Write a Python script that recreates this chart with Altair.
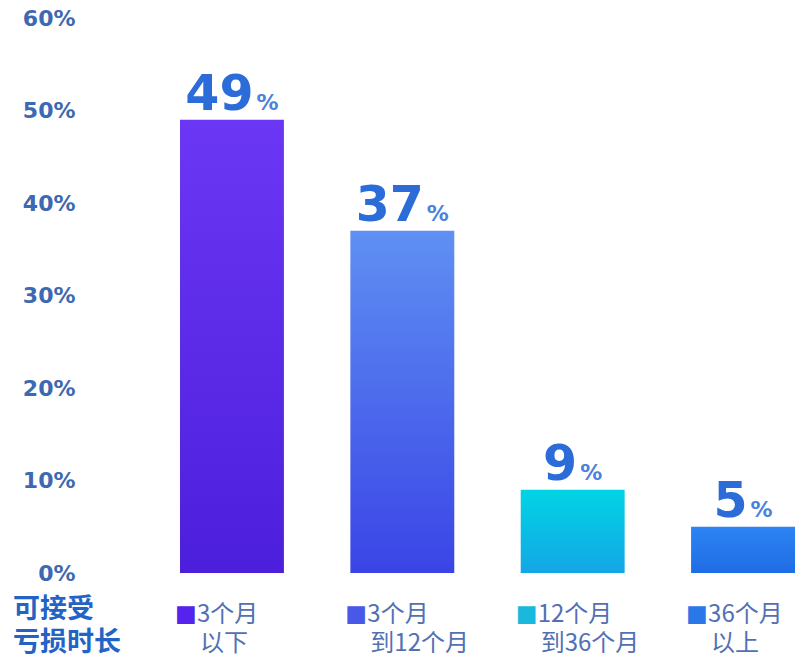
import altair as alt
import pandas as pd

# ---- data ----
categories = ["3个月以下", "3个月到12个月", "12个月到36个月", "36个月以上"]
line1 = ["3个月", "3个月", "12个月", "36个月"]
line2 = ["以下", "到12个月", "到36个月", "以上"]
values = [49, 37, 9, 5]
y_ticks = [0, 10, 20, 30, 40, 50, 60]
row_title = ["可接受", "亏损时长"]

# ---- styles ----
grad_top = ["#6b37f4", "#5f90f3", "#00d4e4", "#2d84f2"]
grad_bot = ["#4c1fdc", "#3a44e6", "#14a6e6", "#1f6ce6"]
swatch = ["#5522ee", "#4a58e8", "#1ab8dc", "#2a78e8"]

df = pd.DataFrame({"cat": categories, "v": values, "l1": line1, "l2": line2})

W, H = 615, 555
CJK = "Noto Sans CJK SC"

xscale = alt.Scale(domain=categories, paddingInner=0.39, paddingOuter=0)
yscale = alt.Scale(domain=[0, 60], nice=False, zero=True)

base = alt.Chart(df)

layers = []
for i, c in enumerate(categories):
    grad = alt.Gradient(
        gradient="linear",
        stops=[alt.GradientStop(color=grad_top[i], offset=0),
               alt.GradientStop(color=grad_bot[i], offset=1)],
        x1=0, x2=0, y1=0, y2=1,
    )
    b = base.transform_filter(alt.datum.cat == c).mark_bar(color=grad).encode(
        x=alt.X("cat:N", scale=xscale, axis=None, sort=categories),
        y=alt.Y("v:Q", scale=yscale,
                axis=alt.Axis(values=y_ticks, labelExpr="datum.value + '%'",
                              ticks=False, domain=False, grid=False,
                              labelPadding=105, labelFont="DejaVu Sans",
                              labelFontWeight="bold", labelFontSize=22,
                              labelColor="#3d68b2", title=None)),
    )
    layers.append(b)

# label offsets (relative to band start): centre the "NN%" group over the bar
num = base.transform_calculate(
    off="17*length(toString(datum.v)) - 12.5 + 52"
).mark_text(font="DejaVu Sans", fontWeight="bold", fontSize=49,
            color="#2b6cd9", align="right", baseline="alphabetic", dy=-10).encode(
    x=alt.X("cat:N", scale=xscale, axis=None, sort=categories),
    xOffset=alt.XOffset("off:Q", scale=None),
    y=alt.Y("v:Q", scale=yscale),
    text=alt.Text("v:Q"),
)

pct = base.transform_calculate(
    off="17*length(toString(datum.v)) - 9.5 + 52", p="'%'"
).mark_text(font="DejaVu Sans", fontWeight="bold", fontSize=22,
            color="#4a82dc", align="left", baseline="alphabetic", dy=-10).encode(
    x=alt.X("cat:N", scale=xscale, axis=None, sort=categories),
    xOffset=alt.XOffset("off:Q", scale=None),
    y=alt.Y("v:Q", scale=yscale),
    text=alt.Text("p:N"),
)

sq = base.transform_calculate(s="'■'").mark_text(
    font="DejaVu Sans", fontSize=23, align="left", baseline="middle", dx=-5).encode(
    x=alt.X("cat:N", scale=xscale, axis=None, sort=categories, bandPosition=0),
    y=alt.value(596),
    text=alt.Text("s:N"),
    color=alt.Color("cat:N", scale=alt.Scale(domain=categories, range=swatch), legend=None),
)

t1 = base.mark_text(font=CJK, fontSize=24, color="#5270b4", align="left",
                    baseline="alphabetic", dx=17).encode(
    x=alt.X("cat:N", scale=xscale, axis=None, sort=categories, bandPosition=0),
    y=alt.value(604),
    text="l1:N",
)
t2 = base.mark_text(font=CJK, fontSize=24, color="#5270b4", align="left",
                    baseline="alphabetic", dx=20).encode(
    x=alt.X("cat:N", scale=xscale, axis=None, sort=categories, bandPosition=0),
    y=alt.value(633),
    text="l2:N",
)

title_df = pd.DataFrame({"t": row_title, "k": [0, 1]})
tt = alt.Chart(title_df).mark_text(font=CJK, fontSize=27, fontWeight="bold",
                                   color="#2463c6", align="left",
                                   baseline="alphabetic").encode(
    x=alt.value(-167),
    y=alt.Y("k:Q", scale=alt.Scale(domain=[0, 1], range=[600, 633]), axis=None),
    text="t:N",
)

chart = alt.layer(*layers, num, pct, sq, t1, t2, tt).resolve_scale(y="independent").properties(
    width=W, height=H,
    autosize=alt.AutoSizeParams(type="none"),
    padding={"left": 172, "top": 10, "right": 0, "bottom": 83},
    background="white",
).configure_view(stroke=None)

chart.save("out.html", embed_options={"renderer": "svg", "actions": False})
